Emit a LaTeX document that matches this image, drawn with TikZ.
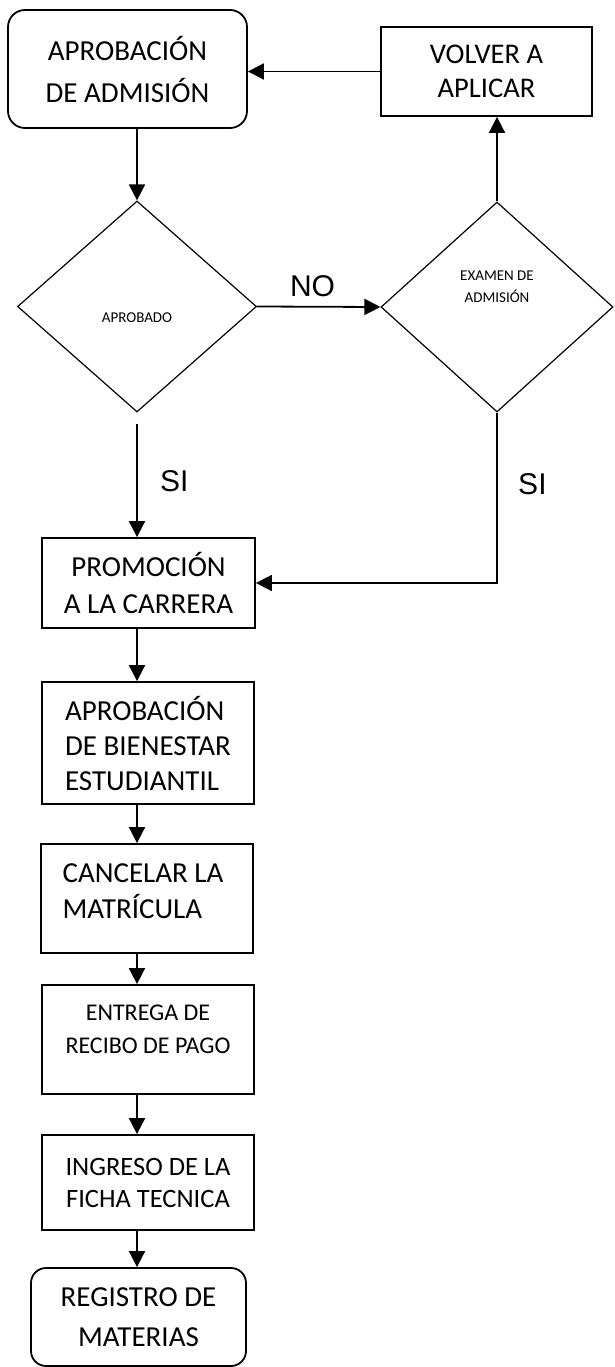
\documentclass[tikz,border=0pt]{standalone}
\usepackage{fontspec}
\setmainfont{Carlito}
\newfontfamily\arialfont{Liberation Sans}
\usetikzlibrary{arrows.meta,shapes.geometric,calc}
\tikzset{
  boxnode/.style={draw, line width=1.8pt, inner sep=0pt, align=center},
  roundnode/.style={boxnode, rounded corners=17pt},
  decision/.style={draw, diamond, line width=1.2pt, inner sep=0pt},
  arr/.style={line width=1.8pt, -{Triangle[length=16pt,width=16pt]}},
  lbl/.style={font={\arialfont\fontsize{30}{34}\selectfont}},
  smalltxt/.style={align=center, font={\fontsize{15}{22}\selectfont}}
}
\begin{document}
\begin{tikzpicture}[x=1pt,y=-1pt]
\useasboundingbox[fill=white] (0,0) rectangle (614,1367);
% nodes
\node[roundnode, minimum width=239, minimum height=118, font={\fontsize{29}{42}\selectfont}] (ada) at (127.5,69) {APROBACIÓN\\DE ADMISIÓN};
\node[boxnode, minimum width=211, minimum height=89, font={\fontsize{28.5}{34}\selectfont}] (volver) at (486.5,71.5) {VOLVER A\\APLICAR};
\node[decision, minimum width=239, minimum height=211] (d1) at (137,306.5) {};
\node[smalltxt] (d1t) at (137,318) {APROBADO};
\node[decision, minimum width=232, minimum height=210] (d2) at (497,307) {};
\node[smalltxt] (d2t) at (497,287) {EXAMEN DE\\ADMISIÓN};
\node[boxnode, minimum width=213, minimum height=90, font={\fontsize{29}{37}\selectfont}] (promo) at (148.5,583) {PROMOCIÓN\\A LA CARRERA};
\node[boxnode, minimum width=212, minimum height=122, align=left, font={\fontsize{29}{35}\selectfont}] (adb) at (148,743) {APROBACIÓN\\DE BIENESTAR\\ESTUDIANTIL};
\node[boxnode, minimum width=212, minimum height=109] (cancel) at (147,898.5) {};
\node[align=left, inner sep=0pt, font={\fontsize{29}{36}\selectfont}] (cancelt) at (143,891) {CANCELAR LA\\MATRÍCULA};
\node[boxnode, minimum width=212, minimum height=109] (entrega) at (148,1039.5) {};
\node[align=center, inner sep=0pt, font={\fontsize{24}{33}\selectfont}] (entregat) at (148,1029) {ENTREGA DE\\RECIBO DE PAGO};
\node[boxnode, minimum width=212, minimum height=95, font={\fontsize{26.5}{32}\selectfont}] (ingreso) at (148,1182.5) {INGRESO DE LA\\FICHA TECNICA};
\node[roundnode, rounded corners=15pt, minimum width=215, minimum height=98, font={\fontsize{29}{40}\selectfont}] (registro) at (138.5,1317) {REGISTRO DE\\MATERIAS};
\coordinate (col) at (137,0);
% connectors
\draw[arr] (volver.west) -- (ada.east |- volver.west);
\draw[arr] (col |- ada.south) -- (d1.north);
\draw[arr] (d1.east) -- node[lbl, above=6pt, pos=0.45] (no) {NO} (d2.west);
\draw[arr] (d2.north) -- (d2.north |- volver.south);
\draw[arr] ([yshift=-11pt]d1.south) -- node[lbl, right=19pt, pos=0.51] (si1) {SI} (col |- promo.north);
\coordinate (bend) at (d2.south |- promo.east);
\draw[arr] (d2.south) -- node[lbl, right=17pt, pos=0.42] (si2) {SI} (bend) -- (promo.east);
\draw[arr] (col |- promo.south) -- (col |- adb.north);
\draw[arr] (col |- adb.south) -- (col |- cancel.north);
\draw[arr] (col |- cancel.south) -- (col |- entrega.north);
\draw[arr] (col |- entrega.south) -- (col |- ingreso.north);
\draw[arr] (col |- ingreso.south) -- (col |- registro.north);
\end{tikzpicture}
\end{document}
